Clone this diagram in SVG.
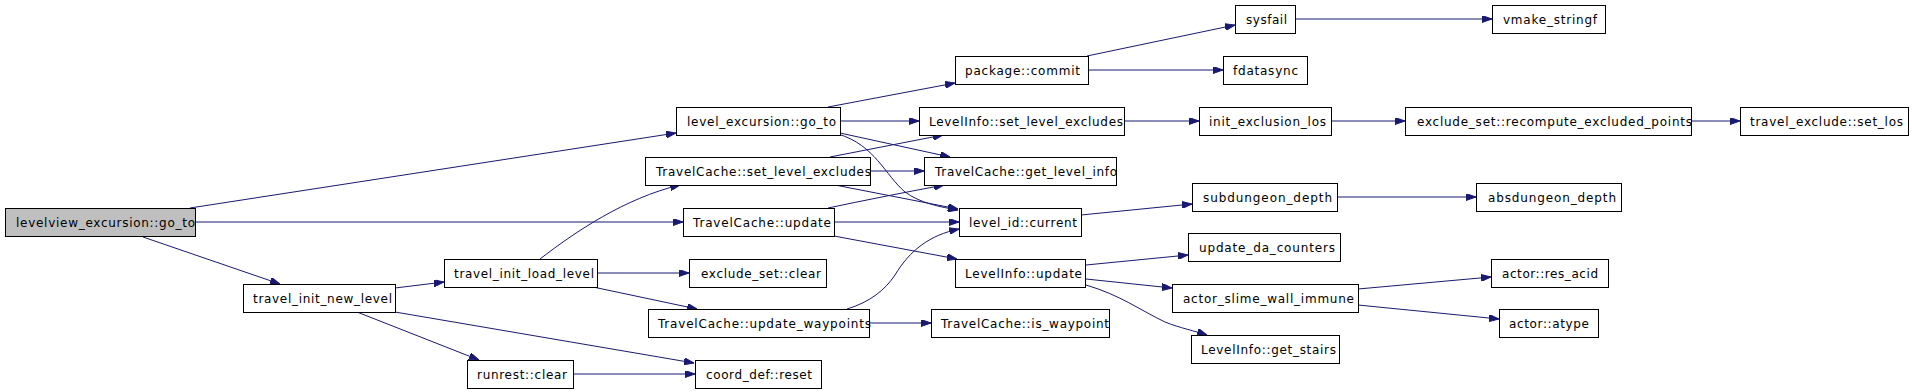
<svg xmlns="http://www.w3.org/2000/svg" width="1912" height="392" viewBox="0 0 1912 392">
<defs>
<style>
.n rect{fill:#ffffff;stroke:#000000;stroke-width:1}
.n.root rect{fill:#bfbfbf}
.n text{font-family:"DejaVu Sans","Liberation Sans",sans-serif;font-size:12px;fill:#000000}
.e path{fill:none;stroke:#191970;stroke-width:1;marker-end:url(#ah)}
</style>
<marker id="ah" viewBox="0 0 10 7" refX="10" refY="3.5" markerWidth="10" markerHeight="7" markerUnits="userSpaceOnUse" orient="auto">
<path d="M0,0 L10,3.5 L0,7 z" fill="#191970" stroke="#191970" stroke-width="1"/>
</marker>
</defs>
<rect x="0" y="0" width="1912" height="392" fill="#ffffff"/>
<g id="edges" class="e">
<path d="M190,208 L676,133"/>
<path d="M195,222 L683,222"/>
<path d="M143,237 L280,284"/>
<path d="M395,288 L444,282"/>
<path d="M395,312 L694,363"/>
<path d="M357,312 L479,360"/>
<path d="M573,374 L695,374"/>
<path d="M540,259 C575,232 625,198 680,185"/>
<path d="M597,273 L689,273"/>
<path d="M593,287 L697,309"/>
<path d="M828,107 L955,83"/>
<path d="M840,121 L919,121"/>
<path d="M840,133 L950,157"/>
<path d="M838,134 C875,145 885,175 905,192 C920,203 940,207 958,210"/>
<path d="M830,157 L943,135"/>
<path d="M870,171 L924,171"/>
<path d="M835,185 L958,209"/>
<path d="M828,208 Q880,197 944,185"/>
<path d="M834,222 L959,222"/>
<path d="M834,236 L957,259"/>
<path d="M847,309 C870,302 885,290 895,275 C910,250 930,235 959,229"/>
<path d="M869,323 L931,323"/>
<path d="M1087,56 L1235,25"/>
<path d="M1088,70 L1223,70"/>
<path d="M1295,19 L1492,19"/>
<path d="M1124,121 L1199,121"/>
<path d="M1331,121 L1405,121"/>
<path d="M1691,121 L1740,121"/>
<path d="M1081,215 L1192,204"/>
<path d="M1337,197 L1476,197"/>
<path d="M1086,265 L1188,255"/>
<path d="M1086,279 L1172,288"/>
<path d="M1086,285 C1120,295 1140,310 1165,322 C1180,328 1195,331 1207,335"/>
<path d="M1358,289 L1491,277"/>
<path d="M1358,305 L1499,319"/>
</g>
<g id="n_levelview_go_to" class="n root"><rect x="5.5" y="208.5" width="190" height="28"/><text x="16" y="227" textLength="179">levelview_excursion::go_to</text></g>
<g id="n_level_excursion_go_to" class="n"><rect x="676.5" y="107.5" width="164" height="28"/><text x="687" y="126" textLength="149">level_excursion::go_to</text></g>
<g id="n_tc_update" class="n"><rect x="683.5" y="208.5" width="151" height="28"/><text x="693" y="227" textLength="138">TravelCache::update</text></g>
<g id="n_travel_init_new_level" class="n"><rect x="243.5" y="284.5" width="152" height="28"/><text x="253" y="303" textLength="139">travel_init_new_level</text></g>
<g id="n_travel_init_load_level" class="n"><rect x="444.5" y="259.5" width="153" height="28"/><text x="454" y="278" textLength="140">travel_init_load_level</text></g>
<g id="n_runrest_clear" class="n"><rect x="467.5" y="360.5" width="106" height="28"/><text x="477" y="379" textLength="90">runrest::clear</text></g>
<g id="n_coord_def_reset" class="n"><rect x="695.5" y="360.5" width="126" height="28"/><text x="706" y="379" textLength="106">coord_def::reset</text></g>
<g id="n_tc_set_level_excludes" class="n"><rect x="645.5" y="157.5" width="225" height="28"/><text x="656" y="176" textLength="215">TravelCache::set_level_excludes</text></g>
<g id="n_exclude_set_clear" class="n"><rect x="689.5" y="259.5" width="137" height="28"/><text x="701" y="278" textLength="120">exclude_set::clear</text></g>
<g id="n_tc_update_waypoints" class="n"><rect x="648.5" y="309.5" width="221" height="28"/><text x="658" y="328" textLength="213">TravelCache::update_waypoints</text></g>
<g id="n_package_commit" class="n"><rect x="955.5" y="56.5" width="133" height="28"/><text x="965" y="75" textLength="115">package::commit</text></g>
<g id="n_li_set_level_excludes" class="n"><rect x="919.5" y="107.5" width="205" height="28"/><text x="929" y="126" textLength="194">LevelInfo::set_level_excludes</text></g>
<g id="n_tc_get_level_info" class="n"><rect x="924.5" y="157.5" width="192" height="28"/><text x="935" y="176" textLength="182">TravelCache::get_level_info</text></g>
<g id="n_level_id_current" class="n"><rect x="959.5" y="208.5" width="122" height="28"/><text x="969" y="227" textLength="108">level_id::current</text></g>
<g id="n_li_update" class="n"><rect x="955.5" y="259.5" width="130" height="28"/><text x="965" y="278" textLength="117">LevelInfo::update</text></g>
<g id="n_tc_is_waypoint" class="n"><rect x="931.5" y="309.5" width="178" height="28"/><text x="941" y="328" textLength="168">TravelCache::is_waypoint</text></g>
<g id="n_sysfail" class="n"><rect x="1235.5" y="5.5" width="60" height="28"/><text x="1246" y="24" textLength="41">sysfail</text></g>
<g id="n_fdatasync" class="n"><rect x="1223.5" y="56.5" width="84" height="28"/><text x="1233" y="75" textLength="65">fdatasync</text></g>
<g id="n_vmake_stringf" class="n"><rect x="1492.5" y="5.5" width="113" height="28"/><text x="1503" y="24" textLength="94">vmake_stringf</text></g>
<g id="n_init_exclusion_los" class="n"><rect x="1199.5" y="107.5" width="132" height="28"/><text x="1209" y="126" textLength="117">init_exclusion_los</text></g>
<g id="n_recompute" class="n"><rect x="1405.5" y="107.5" width="286" height="28"/><text x="1417" y="126" textLength="275">exclude_set::recompute_excluded_points</text></g>
<g id="n_set_los" class="n"><rect x="1740.5" y="107.5" width="168" height="28"/><text x="1750" y="126" textLength="153">travel_exclude::set_los</text></g>
<g id="n_subdungeon_depth" class="n"><rect x="1192.5" y="183.5" width="145" height="28"/><text x="1203" y="202" textLength="129">subdungeon_depth</text></g>
<g id="n_absdungeon_depth" class="n"><rect x="1476.5" y="183.5" width="145" height="28"/><text x="1488" y="202" textLength="128">absdungeon_depth</text></g>
<g id="n_update_da_counters" class="n"><rect x="1188.5" y="233.5" width="152" height="28"/><text x="1199" y="252" textLength="136">update_da_counters</text></g>
<g id="n_actor_slime_wall_immune" class="n"><rect x="1172.5" y="284.5" width="186" height="28"/><text x="1183" y="303" textLength="171">actor_slime_wall_immune</text></g>
<g id="n_li_get_stairs" class="n"><rect x="1191.5" y="335.5" width="148" height="28"/><text x="1201" y="354" textLength="135">LevelInfo::get_stairs</text></g>
<g id="n_actor_res_acid" class="n"><rect x="1491.5" y="259.5" width="117" height="28"/><text x="1502" y="278" textLength="96">actor::res_acid</text></g>
<g id="n_actor_atype" class="n"><rect x="1499.5" y="309.5" width="99" height="28"/><text x="1509" y="328" textLength="80">actor::atype</text></g>
</svg>
